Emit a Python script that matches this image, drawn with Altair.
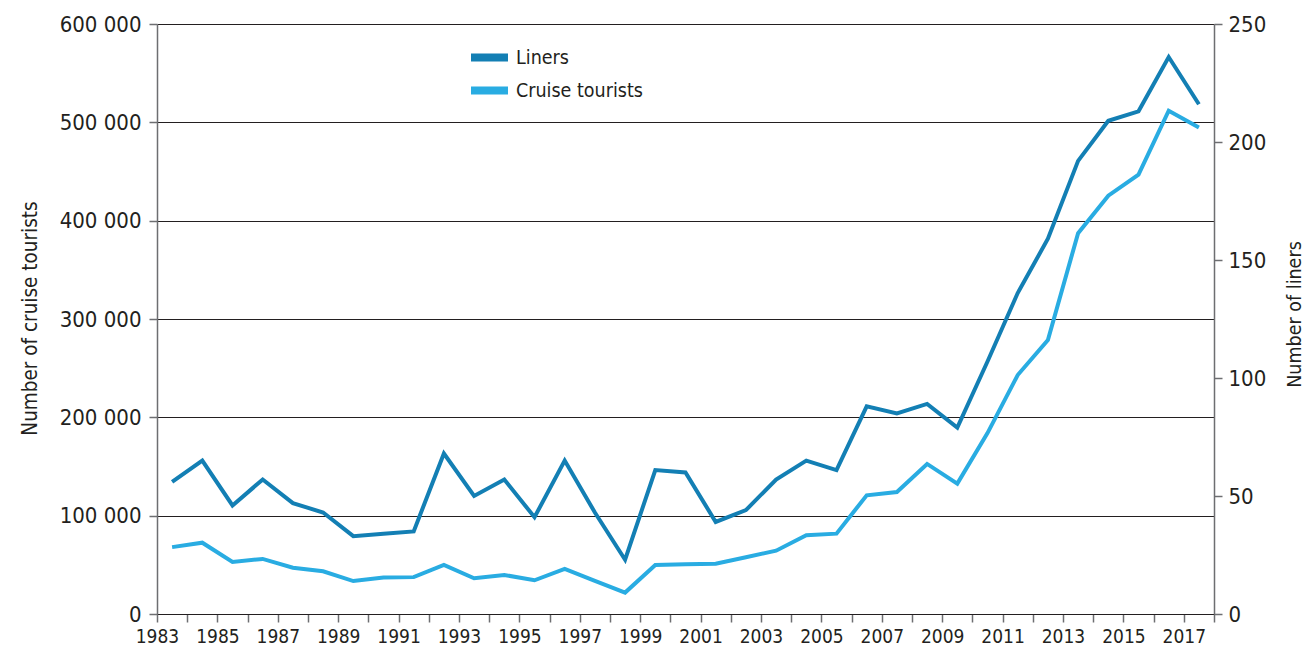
import altair as alt
import pandas as pd

# ---- data ----
years = list(range(1983, 2018))
liners = [56, 65, 46, 57, 47, 43, 33, 34, 35, 68,
          50, 57, 41, 65, 43, 23, 61, 60, 39, 44,
          57, 65, 61, 88, 85, 89, 79, 107, 136, 159,
          192, 209, 213, 236, 216]
tourists = [68000, 72500, 53000, 56000, 47000, 43500, 33500, 37000, 37500, 50000,
            36300, 39700, 34300, 45800, 33700, 21800, 49800, 50500, 51200, 57700,
            64400, 80000, 81700, 120700, 124100, 152600, 132600, 184000, 243000, 278700,
            387300, 425400, 446800, 511800, 494800]
series_names = ["Liners", "Cruise tourists"]
series_colors = ["#137fb4", "#29ace2"]
left_ticks = [0, 100000, 200000, 300000, 400000, 500000, 600000]
right_ticks = [0, 50, 100, 150, 200, 250]
x_ticks = list(range(1983, 2019))

df = pd.DataFrame({"year": years, "liners": liners, "tourists": tourists})

TXT = "#231f20"
AX = "#6d6e71"
COND = "DejaVu Sans Condensed, sans-serif"

color_scale = alt.Scale(domain=series_names, range=series_colors)
legend = alt.Legend(
    title=None, orient="none", legendX=319, legendY=20, direction="vertical",
    symbolType="M-2,0H2", symbolSize=342, symbolStrokeWidth=8,
    labelFont=COND, labelFontSize=19.5, labelColor=TXT, labelOffset=13,
    rowPadding=0, padding=0,
)

x_enc = alt.X(
    "xpos:Q",
    scale=alt.Scale(domain=[1983, 2018], nice=False, zero=False),
    axis=alt.Axis(
        values=x_ticks, format="d",
        labelExpr="datum.value % 2 == 1 ? datum.label : ''",
        title=None, grid=False, labelFlush=False, labelOverlap=False,
        labelFont=COND, labelFontSize=19, labelColor=TXT, labelPadding=5,
        tickSize=8, tickColor=AX, tickWidth=1.5,
        domainColor=TXT, domainWidth=1,
    ),
)

base = alt.Chart(df).transform_calculate(xpos="datum.year + 0.5")

tour = base.transform_calculate(series="'Cruise tourists'").mark_line(
    strokeWidth=4, strokeJoin="miter"
).encode(
    x=x_enc,
    y=alt.Y(
        "tourists:Q",
        scale=alt.Scale(domain=[0, 600000], nice=False),
        axis=alt.Axis(
            orient="left", values=left_ticks,
            labelExpr="datum.value == 0 ? '0' : format(datum.value / 1000, 'd') + ' 000'",
            grid=True, gridColor=TXT, gridWidth=1,
            domainColor=AX, domainWidth=1.5,
            tickColor=AX, tickSize=8, tickWidth=1.5,
            labelFont=COND, labelFontSize=22, labelColor=TXT, labelPadding=8,
            labelFlush=False,
            title="Number of cruise tourists", titleFont=COND, titleFontSize=20.5,
            titleFontWeight="normal", titleColor=TXT,
            titleX=-127, titleY=294, titleAngle=270,
            titleAlign="center", titleBaseline="middle",
        ),
    ),
    color=alt.Color("series:N", scale=color_scale, legend=legend),
)

lin = base.transform_calculate(series="'Liners'").mark_line(
    strokeWidth=4, strokeJoin="miter"
).encode(
    x=x_enc,
    y=alt.Y(
        "liners:Q",
        scale=alt.Scale(domain=[0, 250], nice=False),
        axis=alt.Axis(
            orient="right", values=right_ticks, format="d",
            grid=False,
            domainColor=AX, domainWidth=1.5,
            tickColor=AX, tickSize=8, tickWidth=1.5,
            labelFont=COND, labelFontSize=22, labelColor=TXT, labelPadding=6,
            labelFlush=False,
            title="Number of liners", titleFont=COND, titleFontSize=19.5,
            titleFontWeight="normal", titleColor=TXT,
            titleX=80, titleY=290, titleAngle=270,
            titleAlign="center", titleBaseline="middle",
        ),
    ),
    color=alt.Color("series:N", scale=color_scale, legend=legend),
)

chart = alt.layer(tour, lin).resolve_scale(y="independent").properties(
    width=1057, height=590,
    autosize=alt.AutoSizeParams(type="none"),
    padding={"left": 149, "top": 16, "right": 92, "bottom": 35},
    background="white",
).configure_view(stroke=None)

chart.save("out.html", embed_options={"renderer": "svg", "actions": False})
